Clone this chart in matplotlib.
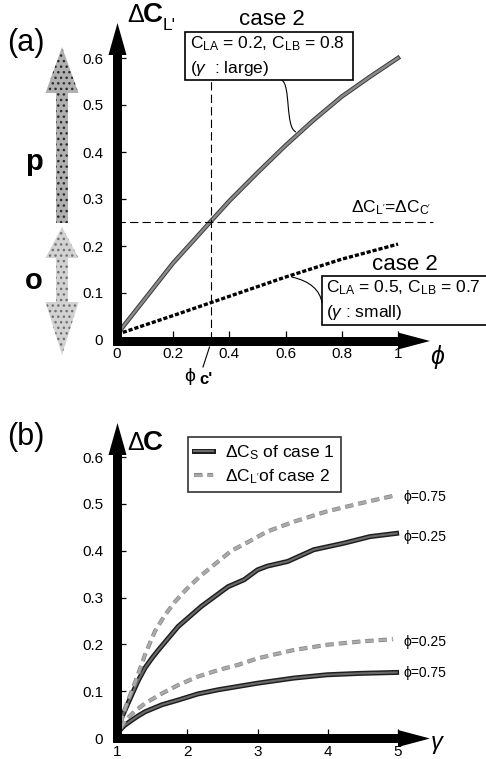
import numpy as np
import matplotlib
import matplotlib.pyplot as plt
from matplotlib.patches import Polygon, Rectangle, PathPatch
from matplotlib.path import Path
import matplotlib.patheffects as pe

plt.rcParams['font.family'] = ['Liberation Sans', 'DejaVu Sans']
plt.rcParams['mathtext.fontset'] = 'custom'
plt.rcParams['mathtext.rm'] = 'Liberation Sans'
plt.rcParams['mathtext.it'] = 'Liberation Sans:italic'
plt.rcParams['mathtext.bf'] = 'Liberation Sans:bold'
plt.rcParams['lines.scale_dashes'] = False

# ---- panel (a) data ----
phi_large = [0, 0.1, 0.2, 0.3, 0.333, 0.4, 0.5, 0.6, 0.7, 0.8, 0.9, 1.0]
dcl_large = [0.012, 0.088, 0.164, 0.230, 0.252, 0.296, 0.356, 0.414, 0.468, 0.518, 0.560, 0.600]
phi_small = [0, 0.2, 0.4, 0.6, 0.8, 1.0]
dcl_small = [0.012, 0.052, 0.093, 0.134, 0.172, 0.204]
phi_c = 0.333
dc_equal = 0.25
a_xticks = [0, 0.2, 0.4, 0.6, 0.8, 1]
a_xlabels = ['0', '0.2', '0.4', '0.6', '0.8', '1']
a_yticks = [0, 0.1, 0.2, 0.3, 0.4, 0.5, 0.6]
a_ylabels = ['0', '0.1', '0.2', '0.3', '0.4', '0.5', '0.6']

# ---- panel (b) data ----
g_s25 = [1.01, 1.1, 1.21, 1.3, 1.40, 1.5, 1.59, 1.87, 2.20, 2.58, 2.81, 3.0, 3.14, 3.43, 3.80, 4.23, 4.60, 4.98]
dc_s25 = [0.024, 0.055, 0.092, 0.122, 0.150, 0.171, 0.188, 0.238, 0.281, 0.323, 0.338, 0.359, 0.367, 0.377, 0.402, 0.416, 0.430, 0.437]
g_s75 = [1.0, 1.1, 1.21, 1.3, 1.40, 1.64, 1.87, 2.15, 2.44, 2.72, 3.0, 3.52, 3.99, 4.46, 4.98]
dc_s75 = [0.01, 0.026, 0.038, 0.047, 0.056, 0.071, 0.081, 0.094, 0.103, 0.110, 0.117, 0.128, 0.135, 0.138, 0.140]
g_d75 = [1.05, 1.12, 1.26, 1.40, 1.54, 1.68, 1.82, 1.99, 2.18, 2.44, 2.63, 2.86, 3.14, 3.52, 3.99, 4.46, 4.93]
dc_d75 = [0.03, 0.065, 0.12, 0.178, 0.228, 0.262, 0.290, 0.318, 0.345, 0.377, 0.400, 0.418, 0.441, 0.462, 0.484, 0.501, 0.517]
g_d25 = [1.05, 1.12, 1.26, 1.40, 1.64, 1.87, 2.15, 2.44, 2.72, 3.0, 3.52, 3.99, 4.46, 4.93]
dc_d25 = [0.02, 0.038, 0.058, 0.074, 0.095, 0.113, 0.131, 0.145, 0.156, 0.170, 0.188, 0.199, 0.206, 0.211]
b_xticks = [1, 2, 3, 4, 5]
b_xlabels = ['1', '2', '3', '4', '5']
b_yticks = a_yticks
b_ylabels = a_ylabels

W, H = 486, 759
fig = plt.figure(figsize=(W/100, H/100), dpi=100)

def px_axes(l, t, r, b):
    return fig.add_axes([l/W, 1 - b/H, (r-l)/W, (b-t)/H])

def style_axes(ax, xt, xl, yt, yl):
    for s in ax.spines.values():
        s.set_visible(False)
    ax.set_xticks(xt)
    ax.set_xticklabels(xl)
    ax.set_yticks(yt)
    ax.set_yticklabels(yl)
    ax.tick_params(axis='x', direction='in', length=6.5, width=0.9, pad=5, labelsize=11)
    ax.tick_params(axis='y', direction='in', length=6.5, width=0.9, pad=10, labelsize=11)
    ax.patch.set_alpha(0)

# panel (a)
axa = px_axes(117, 23, 430, 340)
axa.set_xlim(0, 313/281)
axa.set_ylim(0, 317/470)
style_axes(axa, a_xticks, a_xlabels, a_yticks, a_ylabels)
axa.plot(phi_large, dcl_large, color='#8a8a8a', lw=1.8,
         path_effects=[pe.Stroke(linewidth=3.2, foreground='#3a3a3a'), pe.Normal()])
axa.plot(phi_small, dcl_small, color='black', lw=2.4, dashes=(3.0, 1.4))
axa.plot([phi_c, phi_c], [0, 0.553], color='black', lw=0.8, dashes=(6, 3))
axa.plot([0, 1.126], [dc_equal, dc_equal], color='black', lw=0.8, dashes=(6, 3), clip_on=False)

# panel (b)
axb = px_axes(117, 423, 430, 738)
axb.set_xlim(1, 1 + 313/70.25)
axb.set_ylim(0, 315/468.3)
style_axes(axb, b_xticks, b_xlabels, b_yticks, b_ylabels)
solid_pe = [pe.Stroke(linewidth=3.6, foreground='#1e1e1e'), pe.Normal()]
dash_pe = [pe.Stroke(linewidth=3.0, foreground='#8a8a8a'), pe.Normal()]
l1, = axb.plot(g_s25, dc_s25, color='#6a6a6a', lw=1.5, path_effects=solid_pe)
axb.plot(g_s75, dc_s75, color='#6a6a6a', lw=1.5, path_effects=solid_pe)
l2, = axb.plot(g_d75, dc_d75, color='#ababab', lw=1.8, dashes=(6, 3.6), path_effects=dash_pe)
axb.plot(g_d25, dc_d25, color='#ababab', lw=1.8, dashes=(6, 3.6), path_effects=dash_pe)
leg = axb.legend([l1, l2], ['ΔC$_{\\rm S}$ of case 1', "ΔC$_{\\rm L'}$of case 2"],
                 loc='upper left', bbox_to_anchor=(188/W, 1 - 437/H),
                 bbox_transform=fig.transFigure, fontsize=12.5, frameon=True,
                 fancybox=False, edgecolor='black', handlelength=1.1,
                 handletextpad=0.7, borderpad=0.35, labelspacing=0.3, borderaxespad=0)
leg.get_frame().set_linewidth(1.2)

# overlay in pixel coordinates for decorations
ov = fig.add_axes([0, 0, 1, 1], zorder=5)
ov.set_xlim(0, W)
ov.set_ylim(H, 0)
ov.axis('off')
ov.patch.set_alpha(0)

def axis_arrows(ox, oy, xend, ytop):
    ov.add_patch(Rectangle((ox-4.5, ytop+30), 9, oy+4.5-(ytop+30), color='black', lw=0))
    ov.add_patch(Polygon([(ox-9, ytop+32), (ox+9, ytop+32), (ox, ytop)], color='black', lw=0))
    ov.add_patch(Rectangle((ox-4.5, oy-4.5), xend-30-(ox-4.5), 9, color='black', lw=0))
    ov.add_patch(Polygon([(xend-32, oy-8.5), (xend-32, oy+8.5), (xend, oy)], color='black', lw=0))

axis_arrows(117.5, 341, 430, 23)
axis_arrows(117.5, 738.5, 430, 423)

# stippled arrows at left of panel (a)
p_arrow = [(56, 223), (56, 93), (45.5, 93), (62, 47), (78.5, 93), (68, 93), (68, 223)]
o_arrow = [(62, 227), (78.5, 258), (68, 258), (68, 302), (78.5, 302), (62, 355),
           (45.5, 302), (56, 302), (56, 258), (45.5, 258)]
ov.add_patch(Polygon(p_arrow, facecolor='#b0b0b0', edgecolor='#2a2a2a', hatch='...', lw=0))
ov.add_patch(Polygon(o_arrow, facecolor='#d2d2d2', edgecolor='#707070', hatch='...', lw=0))

ov.text(26, 43, '(a)', fontsize=22, ha='center', va='center')
ov.text(34, 162, 'p', fontsize=21, fontweight='bold', ha='center', va='center')
ov.text(34, 281, 'o', fontsize=21, fontweight='bold', ha='center', va='center')
ov.text(26, 437, '(b)', fontsize=22, ha='center', va='center')

# axis titles
ov.text(127, 22, 'Δ', fontsize=18, ha='left', va='baseline')
ov.text(143, 22, 'C', fontsize=20, fontweight='bold', ha='left', va='baseline')
ov.text(163, 30, "L'", fontsize=12.5, ha='left', va='baseline')
ov.text(127, 450, 'Δ', fontsize=18, ha='left', va='baseline')
ov.text(143, 450, 'C', fontsize=20, fontweight='bold', ha='left', va='baseline')
ov.text(437, 364, 'ϕ', fontsize=18, style='italic', ha='center', va='baseline')
ov.text(437, 745, r'$\gamma$', fontsize=17, ha='center', va='center')

# boxes panel (a)
ov.text(272, 25, 'case 2', fontsize=16, ha='center', va='baseline')
ov.add_patch(Rectangle((185, 32), 168, 48, facecolor='white', edgecolor='black', lw=1.2))
ov.text(190, 48, 'C$_{\\rm LA}$ = 0.2, C$_{\\rm LB}$ = 0.8', fontsize=12.5, ha='left', va='baseline')
ov.text(190, 73, '($\\gamma$  : large)', fontsize=12.5, ha='left', va='baseline')
ov.text(405, 270, 'case 2', fontsize=16, ha='center', va='baseline')
ov.add_patch(Rectangle((322, 276), 180, 49, facecolor='white', edgecolor='black', lw=1.2, clip_on=False))
ov.text(326, 292, 'C$_{\\rm LA}$ = 0.5, C$_{\\rm LB}$ = 0.7', fontsize=12.5, ha='left', va='baseline')
ov.text(326, 317, '($\\gamma$ : small)', fontsize=12.5, ha='left', va='baseline')
ov.text(391, 212, "ΔC$_{\\rm L'}$=ΔC$_{\\rm C'}$", fontsize=12.5, ha='center', va='baseline')

# leader lines
lead1 = Path([(281.5, 80), (291, 84), (285, 128), (296, 132)],
             [Path.MOVETO, Path.CURVE4, Path.CURVE4, Path.CURVE4])
lead2 = Path([(291.5, 277), (310, 281), (320, 290), (322, 303)],
             [Path.MOVETO, Path.CURVE4, Path.CURVE4, Path.CURVE4])
ov.add_patch(PathPatch(lead1, facecolor='none', edgecolor='black', lw=0.8))
ov.add_patch(PathPatch(lead2, facecolor='none', edgecolor='black', lw=0.8))
ov.plot([209.5, 203], [347, 367], color='black', lw=0.8)
ov.text(190, 381, 'ϕ', fontsize=14, ha='center', va='baseline')
ov.text(199, 384, "c'", fontsize=12, fontweight='bold', ha='left', va='baseline')

# phi labels panel (b)
for y, s in [(501, 'ϕ=0.75'), (541, 'ϕ=0.25'), (646, 'ϕ=0.25'), (677, 'ϕ=0.75')]:
    ov.text(403, y, s, fontsize=10, ha='left', va='baseline')

fig.savefig('out.png', dpi=100)
